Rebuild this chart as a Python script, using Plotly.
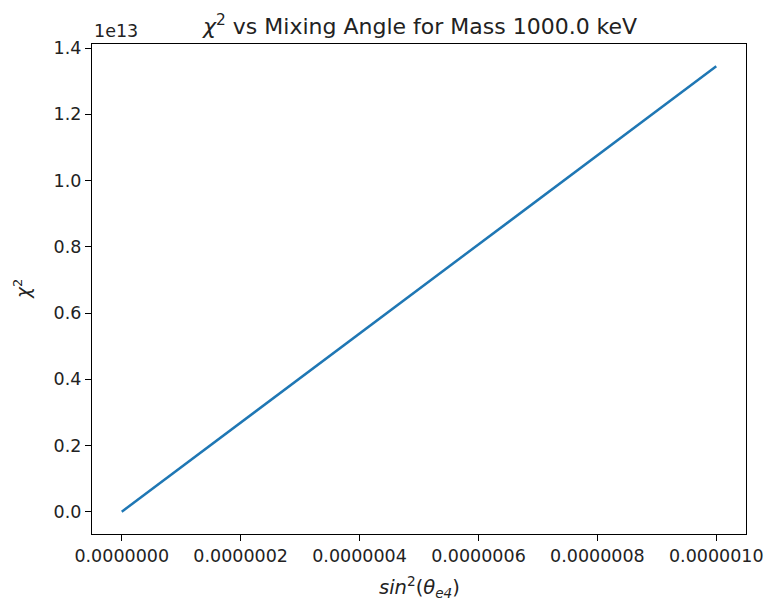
import plotly.graph_objects as go

# Data
mixing = [0.0, 2e-7, 4e-7, 6e-7, 8e-7, 1e-6]
chi2 = [0.0, 0.269e13, 0.538e13, 0.807e13, 1.076e13, 1.345e13]
ytick_vals = [0.0, 0.2e13, 0.4e13, 0.6e13, 0.8e13, 1.0e13, 1.2e13, 1.4e13]
ytick_text = ["0.0", "0.2", "0.4", "0.6", "0.8", "1.0", "1.2", "1.4"]
xtick_vals = [0.0, 2e-7, 4e-7, 6e-7, 8e-7, 1e-6]
xtick_text = ["0.0000000", "0.0000002", "0.0000004", "0.0000006", "0.0000008", "0.0000010"]

FONT = "DejaVu Sans"
FS = 17.5

fig = go.Figure()
fig.add_trace(go.Scatter(x=mixing, y=chi2, mode="lines",
                         line=dict(color="#1f77b4", width=2.5), showlegend=False))

xspan = max(mixing) - min(mixing)
yspan = max(chi2) - min(chi2)

axis_common = dict(showline=True, mirror=True, linecolor="black", linewidth=1.2,
                   ticks="outside", ticklen=6, tickwidth=1.2, tickcolor="black",
                   showgrid=False, zeroline=False,
                   tickfont=dict(family=FONT, size=FS, color="#222"))

fig.update_layout(
    width=775, height=602,
    margin=dict(l=92, r=24, t=44, b=68),
    plot_bgcolor="white", paper_bgcolor="white",
    xaxis=dict(range=[min(mixing) - 0.05 * xspan, max(mixing) + 0.05 * xspan],
               tickvals=xtick_vals, ticktext=xtick_text, **axis_common),
    yaxis=dict(range=[min(chi2) - 0.05 * yspan, max(chi2) + 0.05 * yspan],
               tickvals=ytick_vals, ticktext=ytick_text, **axis_common),
)

fig.add_annotation(text="<i>χ</i><sup>2</sup> vs Mixing Angle for Mass 1000.0 keV",
                   xref="paper", yref="paper", x=0.5, y=1, xanchor="center",
                   yanchor="bottom", yshift=3, showarrow=False,
                   font=dict(family=FONT, size=22, color="#222"))
fig.add_annotation(text="1e13", xref="paper", yref="paper", x=0, y=1,
                   xanchor="left", yanchor="bottom", yshift=1, showarrow=False,
                   font=dict(family=FONT, size=FS, color="#222"))
fig.add_annotation(text="<i>sin</i><sup>2</sup>(<i>θ</i><sub><i>e4</i></sub>)",
                   xref="paper", yref="paper", x=0.5, y=-0.108, xanchor="center",
                   yanchor="middle", showarrow=False,
                   font=dict(family=FONT, size=19.5, color="#222"))
fig.add_annotation(text="<i>χ</i><sup>2</sup>", xref="paper", yref="paper",
                   x=-0.107, y=0.5, xanchor="center", yanchor="middle",
                   textangle=-90, showarrow=False,
                   font=dict(family=FONT, size=18.5, color="#222"))

fig.write_html("out.html")
